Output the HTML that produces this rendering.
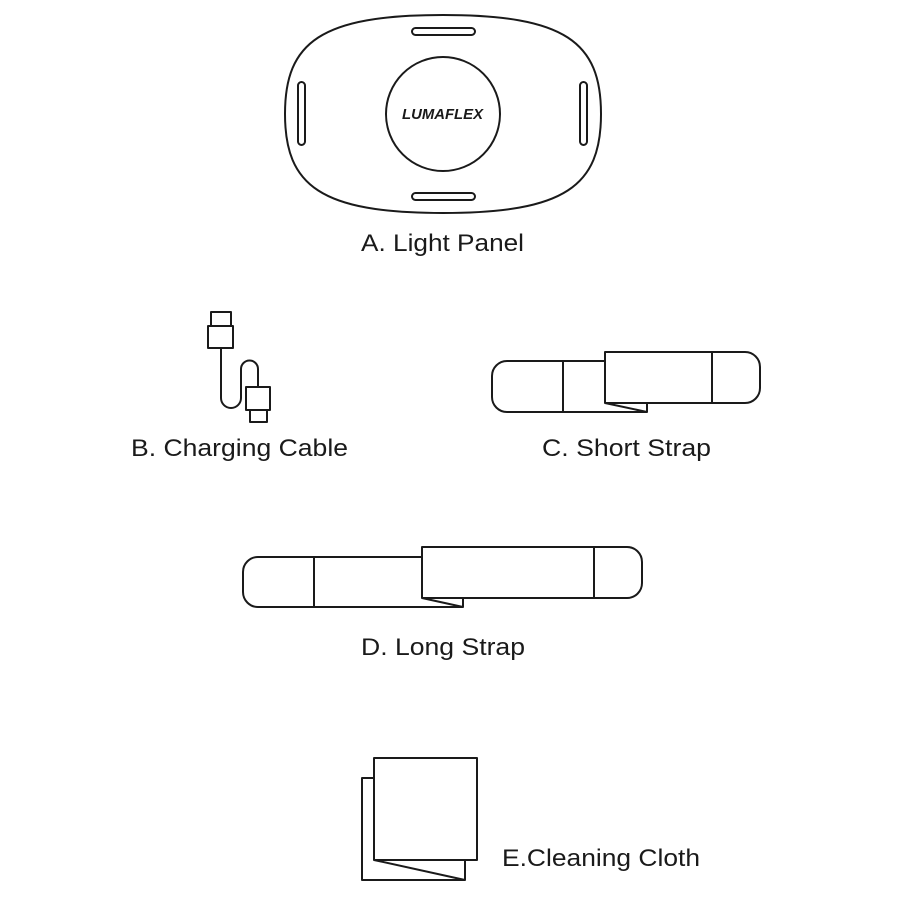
<!DOCTYPE html>
<html><head><style>body{margin:0;background:#fff}svg{display:block}</style></head><body>
<svg width="900" height="900" viewBox="0 0 900 900" xmlns="http://www.w3.org/2000/svg" fill="none" stroke="#1a1a1a" stroke-width="2" stroke-linejoin="round">
<path d="M443,15 C565,15 601,42 601,114 C601,186 565,213 443,213 C321,213 285,186 285,114 C285,42 321,15 443,15Z"/>
<rect x="412" y="28" width="63" height="7" rx="3.5"/>
<rect x="412" y="193" width="63" height="7" rx="3.5"/>
<rect x="298" y="82" width="7" height="63" rx="3.5"/>
<rect x="580" y="82" width="7" height="63" rx="3.5"/>
<circle cx="443" cy="114" r="57"/>
<text x="402" y="119" font-family="Liberation Sans, sans-serif" font-size="15" font-weight="bold" font-style="italic" fill="#1a1a1a" stroke="none" textLength="81" lengthAdjust="spacingAndGlyphs">LUMAFLEX</text>
<rect x="211" y="312" width="20" height="14"/>
<rect x="208" y="326" width="25" height="22"/>
<path d="M221,348 V398 A10,10 0 0 0 241,398 V369 A8.5,8.5 0 0 1 258,369 V387"/>
<rect x="246" y="387" width="24" height="23"/>
<rect x="250" y="410" width="17" height="12"/>
<path d="M605,361 H507 A15,15 0 0 0 492,376 V397 A15,15 0 0 0 507,412 H647 V403"/>
<line x1="563" y1="361" x2="563" y2="412"/>
<path d="M605,352 H745 A15,15 0 0 1 760,367 V388 A15,15 0 0 1 745,403 H605 Z"/>
<line x1="712" y1="352" x2="712" y2="403"/>
<path d="M605,403 L647,412"/>
<path d="M422,557 H258 A15,15 0 0 0 243,572 V592 A15,15 0 0 0 258,607 H463 V598"/>
<line x1="314" y1="557" x2="314" y2="607"/>
<path d="M422,547 H627 A15,15 0 0 1 642,562 V583 A15,15 0 0 1 627,598 H422 Z"/>
<line x1="594" y1="547" x2="594" y2="598"/>
<path d="M422,598 L463,607"/>
<path d="M374,778 H362 V880 H465 V860"/>
<rect x="374" y="758" width="103" height="102"/>
<path d="M374,860 L465,880"/>
<g font-family="Liberation Sans, sans-serif" font-size="24" fill="#1a1a1a" stroke="none" lengthAdjust="spacingAndGlyphs">
<text x="361" y="251" textLength="163" lengthAdjust="spacingAndGlyphs">A. Light Panel</text>
<text x="131" y="456" textLength="217" lengthAdjust="spacingAndGlyphs">B. Charging Cable</text>
<text x="542" y="456" textLength="169" lengthAdjust="spacingAndGlyphs">C. Short Strap</text>
<text x="361" y="655" textLength="164" lengthAdjust="spacingAndGlyphs">D. Long Strap</text>
<text x="502" y="866" textLength="198" lengthAdjust="spacingAndGlyphs">E.Cleaning Cloth</text>
</g>
</svg>
</body></html>
